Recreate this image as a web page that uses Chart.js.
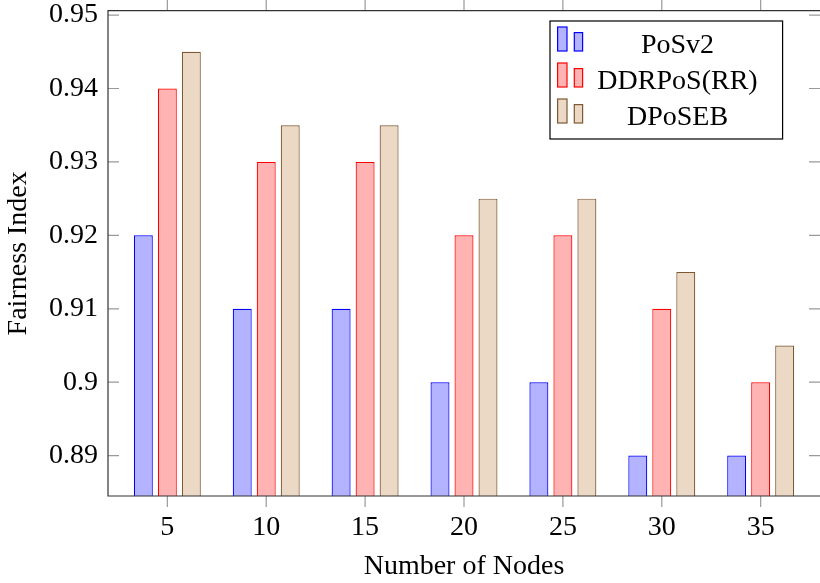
<!DOCTYPE html>
<html>
<head>
<meta charset="utf-8">
<script src="https://cdn.jsdelivr.net/npm/chart.js@4"></script>
<style>
  html, body { margin: 0; padding: 0; background: #fff; overflow: hidden; }
  #wrap { width: 820px; height: 583px; }
</style>
</head>
<body>
<div id="wrap"><canvas id="chart"></canvas></div>
<script>
const nodes = [5, 10, 15, 20, 25, 30, 35];
const posv2 = [0.92, 0.91, 0.91, 0.90, 0.90, 0.89, 0.89];
const ddrpos = [0.94, 0.93, 0.93, 0.92, 0.92, 0.91, 0.90];
const dposeb = [0.945, 0.935, 0.935, 0.925, 0.925, 0.915, 0.905];
const yTicks = [0.89, 0.9, 0.91, 0.92, 0.93, 0.94, 0.95];

const FONT = "'Liberation Serif', 'Times New Roman', serif";
const FONT_SIZE = 28;
const TICK_COLOR = "#9a9a9a";

const series = [
  { label: "PoSv2", data: posv2, fill: "rgb(179,179,255)", line: "rgb(0,0,255)" },
  { label: "DDRPoS(RR)", data: ddrpos, fill: "rgb(255,179,179)", line: "rgb(255,0,0)" },
  { label: "DPoSEB", data: dposeb, fill: "rgb(235,217,198)", line: "rgb(125,88,50)" },
];

// frame, inward/outward ticks and the pgfplots-style legend
const decorations = {
  id: "decorations",
  afterDatasetsDraw(chart) {
    const { ctx, chartArea: a, scales } = chart;
    ctx.save();
    ctx.lineWidth = 1.2;
    ctx.strokeStyle = TICK_COLOR;
    nodes.forEach((n) => {
      const x = scales.x.getPixelForValue(n);
      ctx.beginPath();
      ctx.moveTo(x, a.bottom); ctx.lineTo(x, a.bottom + 11);
      ctx.moveTo(x, a.top); ctx.lineTo(x, a.top - 11);
      ctx.stroke();
    });
    yTicks.forEach((v) => {
      const y = scales.y.getPixelForValue(v);
      ctx.beginPath();
      ctx.moveTo(a.left, y); ctx.lineTo(a.left + 11, y);
      ctx.moveTo(a.right - 11, y); ctx.lineTo(a.right, y);
      ctx.stroke();
    });

    // the right side of the frame falls off the picture
    ctx.strokeStyle = "rgb(50,50,50)";
    ctx.lineWidth = 1.2;
    ctx.beginPath();
    ctx.moveTo(a.right + 2, a.top);
    ctx.lineTo(a.left, a.top);
    ctx.lineTo(a.left, a.bottom);
    ctx.lineTo(a.right + 2, a.bottom);
    ctx.stroke();

    // legend
    const bx = a.right - 270, by = a.top + 10.3, bw = 232.6, bh = 118;
    ctx.fillStyle = "#fff";
    ctx.fillRect(bx, by, bw, bh);
    ctx.strokeStyle = "#000";
    ctx.lineWidth = 1.2;
    ctx.strokeRect(bx, by, bw, bh);
    ctx.font = FONT_SIZE + "px " + FONT;
    ctx.textAlign = "center";
    ctx.textBaseline = "alphabetic";
    series.forEach((s, i) => {
      const base = by + 30 + i * 36;
      ctx.fillStyle = s.fill;
      ctx.strokeStyle = s.line;
      ctx.lineWidth = 1.2;
      ctx.fillRect(bx + 7.6, base - 24, 9.4, 24);
      ctx.strokeRect(bx + 7.6, base - 24, 9.4, 24);
      ctx.fillRect(bx + 24.3, base - 18.4, 8.3, 18.4);
      ctx.strokeRect(bx + 24.3, base - 18.4, 8.3, 18.4);
      ctx.fillStyle = "#000";
      ctx.fillText(s.label, bx + 127.5, base + 1.5);
    });
    ctx.restore();
  },
};

new Chart(document.getElementById("chart"), {
  type: "bar",
  data: {
    datasets: series.map((s) => ({
      label: s.label,
      data: nodes.map((n, i) => ({ x: n, y: s.data[i] })),
      backgroundColor: s.fill,
      borderColor: s.line,
      borderWidth: 1.2,
      categoryPercentage: 0.728,
      barPercentage: 0.79,
    })),
  },
  options: {
    responsive: true,
    maintainAspectRatio: false,
    animation: false,
    layout: { padding: { top: 10.7, right: 0, left: 0, bottom: 0 } },
    plugins: { legend: { display: false }, tooltip: { enabled: false } },
    scales: {
      x: {
        type: "linear",
        offset: false,
        min: 2,
        max: 38,
        afterBuildTicks: (scale) => { scale.ticks = nodes.map((v) => ({ value: v })); },
        afterFit: (scale) => {
          scale.height = 87;
          scale.paddingLeft = 0;
          scale.paddingRight = 0;
        },
        grid: { display: false, drawTicks: false },
        border: { display: false },
        ticks: {
          color: "#000",
          font: { family: FONT, size: FONT_SIZE },
          padding: 15,
          maxRotation: 0,
          autoSkip: false,
        },
        title: {
          display: true,
          text: "Number of Nodes",
          color: "#000",
          font: { family: FONT, size: FONT_SIZE },
          padding: { top: 0, bottom: 0 },
        },
      },
      y: {
        min: 0.8845,
        max: 0.9506,
        afterBuildTicks: (scale) => { scale.ticks = yTicks.map((v) => ({ value: v })); },
        afterFit: (scale) => {
          scale.width = 108;
          scale.paddingTop = 0;
          scale.paddingBottom = 0;
        },
        grid: { display: false, drawTicks: false },
        border: { display: false },
        ticks: {
          color: "#000",
          font: { family: FONT, size: FONT_SIZE },
          padding: 10,
          callback: (v) => String(parseFloat(Number(v).toFixed(3))),
        },
        title: {
          display: true,
          text: "Fairness Index",
          color: "#000",
          font: { family: FONT, size: FONT_SIZE },
          padding: { top: 2, bottom: 0 },
        },
      },
    },
  },
  plugins: [decorations],
});
</script>
</body>
</html>
